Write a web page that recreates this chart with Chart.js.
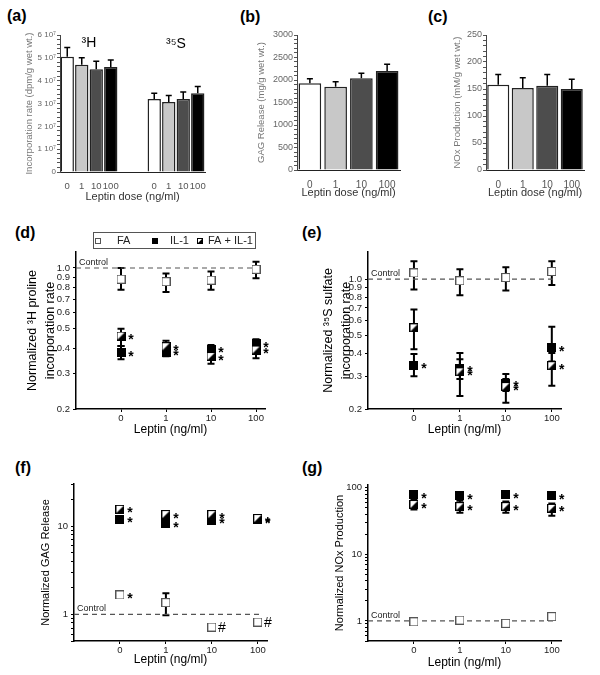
<!DOCTYPE html>
<html>
<head>
<meta charset="utf-8">
<script src="https://cdn.jsdelivr.net/npm/chart.js@4.4.0/dist/chart.umd.min.js"></script>
<style>
  body { margin: 0; background: #fff; width: 600px; height: 675px; position: relative; overflow: hidden; font-family: "Liberation Sans", Arial, sans-serif; }
  canvas { position: absolute; }
  .tag { position: absolute; font-weight: bold; font-size: 16px; color: #000; line-height: 16px; }
</style>
</head>
<body>
<div class="tag" style="left:7px;top:8px">(a)</div>
<div class="tag" style="left:240px;top:9px">(b)</div>
<div class="tag" style="left:428px;top:9px">(c)</div>
<div class="tag" style="left:15px;top:225px">(d)</div>
<div class="tag" style="left:302px;top:225px">(e)</div>
<div class="tag" style="left:15px;top:460px">(f)</div>
<div class="tag" style="left:302px;top:460px">(g)</div>

<canvas id="chartA"></canvas>
<canvas id="chartB"></canvas>
<canvas id="chartC"></canvas>
<canvas id="chartD"></canvas>
<canvas id="chartE"></canvas>
<canvas id="chartF"></canvas>
<canvas id="chartG"></canvas>

<script>
// ---- data ----
const doseLabels = ["0", "1", "10", "100"];
const doseIdx = [0, 1, 2, 3];
const seriesNames = ["FA", "IL-1", "FA + IL-1"];

// (a) incorporation rate, 3H group then 35S group
const aLabels = ["0", "1", "10", "100", "", "", "0", "1", "10", "100"];
const aGroups = ["³H", "³⁵S"];
const aValues = [5.05e7, 4.7e7, 4.5e7, 4.6e7, null, null, 3.2e7, 3.07e7, 3.2e7, 3.45e7];
const aErr = [5.45e7, 5.0e7, 4.85e7, 4.9e7, null, null, 3.45e7, 3.35e7, 3.5e7, 3.75e7];
const aTickLabels = ["0", "1 10⁷", "2 10⁷", "3 10⁷", "4 10⁷", "5 10⁷", "6 10⁷"];

// (b) GAG release
const bValues = [1930, 1850, 2040, 2200];
const bErr = [2030, 1960, 2150, 2350];

// (c) NOx production
const cValues = [158, 152, 156, 150];
const cErr = [177, 171, 177, 168];

// (d) normalized 3H proline incorporation
const dFA = [0.88, 0.855, 0.87, 0.985];
const dFALo = [0.78, 0.76, 0.78, 0.89];
const dFAHi = [1.0, 0.94, 0.96, 1.075];
const dIL1 = [0.38, 0.382, 0.395, 0.42];
const dIL1Lo = [0.353, 0.365, 0.375, 0.40];
const dIL1Hi = [0.41, 0.40, 0.415, 0.443];
const dFAIL = [0.46, 0.407, 0.364, 0.392];
const dFAILLo = [0.41, 0.38, 0.335, 0.357];
const dFAILHi = [0.50, 0.436, 0.39, 0.42];
const dTicks = [0.2, 0.3, 0.4, 0.5, 0.6, 0.7, 0.8, 0.9, 1.0];
const dTickLabels = ["0.2", "0.3", "0.4", "0.5", "0.6", "0.7", "0.8", "0.9", "1.0"];
const dMarks = [["", "", "", ""], ["*", "*", "*", "*"], ["*", "*", "*", "*"]];

// (e) normalized 35S sulfate incorporation
const eFA = [1.08, 0.98, 1.02, 1.10];
const eFALo = [0.88, 0.82, 0.87, 0.93];
const eFAHi = [1.25, 1.13, 1.16, 1.25];
const eIL1 = [0.345, 0.331, 0.275, 0.427];
const eIL1Lo = [0.30, 0.29, 0.25, 0.36];
const eIL1Hi = [0.395, 0.40, 0.309, 0.554];
const eFAIL = [0.547, 0.317, 0.264, 0.342];
const eFAILLo = [0.42, 0.235, 0.216, 0.267];
const eFAILHi = [0.687, 0.37, 0.29, 0.40];
const eTicks = [0.2, 0.3, 0.4, 0.5, 0.6, 0.7, 0.8, 0.9, 1.0];
const eTickLabels = ["0.2", "0.3", "0.4", "0.5", "0.6", "0.7", "0.8", "0.9", "1.0"];
const eMarks = [["", "", "", ""], ["*", "*", "*", "*"], ["", "*", "*", "*"]];

// (f) normalized GAG release
const fFA = [1.66, 1.36, 0.72, 0.82];
const fFALo = [null, 0.98, null, 0.76];
const fFAHi = [null, 1.74, null, 0.86];
const fIL1 = [11.9, 10.6, 11.7, 11.8];
const fFAIL = [15.5, 13.5, 13.5, 12.2];
const fMajor = [1, 10];
const fMajorLabels = ["1", "10"];
const fMinor = [0.5, 0.6, 0.7, 0.8, 0.9, 2, 3, 4, 5, 6, 7, 8, 9, 20, 30];
const fMarks = [["*", "", "#", "#"], ["*", "*", "*", "*"], ["*", "*", "*", "*"]];

// (g) normalized NOx production
const gFA = [0.97, 1.03, 0.92, 1.16];
const gIL1 = [78, 76, 78, 76];
const gFAIL = [56, 52, 52, 49];
const gFAILLo = [47, 42, 42, 38];
const gFAILHi = [66, 64, 62, 58];
const gMajor = [1, 10, 100];
const gMajorLabels = ["1", "10", "100"];
const gMinor = [0.5, 0.6, 0.7, 0.8, 0.9, 2, 3, 4, 5, 6, 7, 8, 9, 20, 30, 40, 50, 60, 70, 80, 90];
const gMarks = [["", "", "", ""], ["*", "*", "*", "*"], ["*", "*", "*", "*"]];

const controlLevel = 1;
const controlEnd = 3.07;

// ---- styles ----
const FONT = '"Liberation Sans", Arial, sans-serif';
const barFills = ["#ffffff", "#c8c8c8", "#4d4d4d", "#000000"];
const drawOrder = [1, 2, 0]; // FA + IL-1 markers sit on top

Chart.defaults.font.family = FONT;
Chart.defaults.animation = false;
Chart.defaults.plugins.legend.display = false;
Chart.defaults.plugins.tooltip.enabled = false;

function marker(kind, size) {
  const c = document.createElement("canvas");
  c.width = size;
  c.height = size;
  const g = c.getContext("2d");
  g.fillStyle = kind === "filled" ? "#000" : "#fff";
  g.fillRect(0, 0, size, size);
  if (kind === "half") {
    g.fillStyle = "#000";
    g.beginPath();
    g.moveTo(size, 0);
    g.lineTo(size, size);
    g.lineTo(0, size);
    g.closePath();
    g.fill();
  }
  g.strokeStyle = kind === "open" ? "#555" : "#000";
  g.lineWidth = 1;
  g.strokeRect(0.5, 0.5, size - 1, size - 1);
  return c;
}
const markerKinds = ["open", "filled", "half"];
const bigMarkers = markerKinds.map((k) => marker(k, 9));
const smallMarkers = markerKinds.map((k) => marker(k, 6));

// canvas placement so the plot area lands where it should
function place(id, box, area) {
  const c = document.getElementById(id);
  c.width = box.w;
  c.height = box.h;
  c.style.left = box.x + "px";
  c.style.top = box.y + "px";
  return {
    ctx: c,
    padding: { top: area.t - box.y, right: box.x + box.w - area.r, left: 0, bottom: 0 },
    yWidth: area.l - box.x,
    xHeight: box.y + box.h - area.b,
  };
}

// ---- plugins ----
const errorBars = {
  id: "errorBars",
  beforeDatasetsDraw(chart) {
    const { ctx } = chart;
    const y = chart.scales.y;
    chart.data.datasets.forEach((ds, i) => {
      if (!ds.errHi) return;
      const meta = chart.getDatasetMeta(i);
      ctx.save();
      ctx.strokeStyle = "#000";
      ctx.lineWidth = ds.errWidth || 1.5;
      meta.data.forEach((el, j) => {
        const hi = ds.errHi[j];
        if (hi == null) return;
        const lo = ds.errLo ? ds.errLo[j] : null;
        const yHi = y.getPixelForValue(hi);
        const yLo = lo == null ? el.y : y.getPixelForValue(lo);
        const cap = ds.errCap || 3;
        ctx.beginPath();
        ctx.moveTo(el.x, yLo);
        ctx.lineTo(el.x, yHi);
        ctx.moveTo(el.x - cap, yHi);
        ctx.lineTo(el.x + cap, yHi);
        if (lo != null) {
          ctx.moveTo(el.x - cap, yLo);
          ctx.lineTo(el.x + cap, yLo);
        }
        ctx.stroke();
      });
      ctx.restore();
    });
  },
};

const sigMarks = {
  id: "sigMarks",
  afterDatasetsDraw(chart) {
    const { ctx } = chart;
    chart.data.datasets.forEach((ds, i) => {
      if (!ds.marks) return;
      const meta = chart.getDatasetMeta(i);
      ctx.save();
      ctx.fillStyle = "#000";
      ctx.textAlign = "center";
      ctx.textBaseline = "alphabetic";
      meta.data.forEach((el, j) => {
        const m = ds.marks[j];
        if (!m) return;
        ctx.font = (m === "*" ? "bold 14px " : "14px ") + FONT;
        ctx.fillText(m, el.x + 10, el.y + (m === "*" ? 8 : 5));
      });
      ctx.restore();
    });
  },
};

const controlLabel = {
  id: "controlLabel",
  afterDatasetsDraw(chart) {
    const ds = chart.data.datasets.find((d) => d.isControl);
    if (!ds) return;
    const { ctx, chartArea } = chart;
    const yy = chart.scales.y.getPixelForValue(ds.data[0].y);
    ctx.save();
    ctx.font = "9px " + FONT;
    ctx.fillStyle = "#222";
    ctx.textBaseline = "bottom";
    ctx.fillText(ds.label, chartArea.left + 3, yy - 1);
    ctx.restore();
  },
};

const groupLabels = {
  id: "groupLabels",
  afterDatasetsDraw(chart) {
    const { ctx, chartArea } = chart;
    const x = chart.scales.x;
    ctx.save();
    ctx.font = "14px " + FONT;
    ctx.fillStyle = "#000";
    ctx.textAlign = "center";
    ctx.textBaseline = "middle";
    ctx.fillText(aGroups[0], x.getPixelForValue(1.5), chartArea.top + 8);
    ctx.fillText(aGroups[1], x.getPixelForValue(7.5), chartArea.top + 9);
    ctx.restore();
  },
};

const boxLegend = {
  id: "boxLegend",
  afterDraw(chart) {
    const { ctx, chartArea } = chart;
    const x0 = chartArea.left + 17, y0 = chartArea.top - 20, w = 162, h = 16;
    const slots = [[5, 24], [62, 77], [107, 115]];
    ctx.save();
    ctx.strokeStyle = "#555";
    ctx.lineWidth = 1;
    ctx.strokeRect(x0 + 0.5, y0 + 0.5, w, h);
    ctx.font = "11px " + FONT;
    ctx.fillStyle = "#222";
    ctx.textBaseline = "middle";
    seriesNames.forEach((name, k) => {
      const img = smallMarkers[k];
      ctx.drawImage(img, Math.round(x0 + slots[k][0] - img.width / 2), Math.round(y0 + h / 2 - img.height / 2) + 1);
      ctx.fillText(name, x0 + slots[k][1], y0 + h / 2 + 1);
    });
    ctx.restore();
  },
};

// ---- bar panels (a)-(c) ----
function barChart(id, box, area, labels, values, errs, yOpts) {
  const L = place(id, box, area);
  const fills = labels.map((l) => (l === "" ? "rgba(0,0,0,0)" : barFills[doseLabels.indexOf(l)]));
  return new Chart(L.ctx, {
    type: "bar",
    data: {
      labels: labels,
      datasets: [{
        data: values,
        backgroundColor: fills,
        borderColor: "#222",
        borderWidth: 1.5,
        barPercentage: yOpts.barPct,
        categoryPercentage: 1,
        errHi: errs,
        errWidth: 1.5,
        errCap: 3,
      }],
    },
    options: {
      responsive: false,
      layout: { padding: L.padding },
      scales: {
        x: {
          ticks: { color: "#555", font: { size: yOpts.xTickSize }, padding: 1, autoSkip: false, maxRotation: 0 },
          grid: { display: false },
          border: { color: "#222", width: 1 },
          title: { display: true, text: "Leptin dose (ng/ml)", color: "#333", font: { size: 11 }, padding: { top: 0, bottom: 4 } },
          afterFit: (s) => { s.height = L.xHeight; },
        },
        y: {
          min: yOpts.min,
          max: yOpts.max,
          ticks: {
            stepSize: yOpts.step,
            maxTicksLimit: 100,
            autoSkip: false,
            color: "#666",
            font: { size: yOpts.tickSize },
            padding: 1,
            callback: yOpts.label,
          },
          grid: { drawOnChartArea: false, tickLength: 3, color: "#555" },
          border: { color: "#444", width: 1 },
          title: { display: true, text: yOpts.title, color: "#777", font: { size: 9.5 }, padding: { top: 0, bottom: 0 } },
          afterFit: (s) => { s.width = L.yWidth; },
        },
      },
    },
    plugins: yOpts.plugins,
  });
}

barChart("chartA", { x: 24, y: 28, w: 191, h: 180 }, { l: 60, t: 35, r: 205, b: 172 }, aLabels, aValues, aErr, {
  min: 0, max: 6e7, step: 2e6, tickSize: 8, xTickSize: 9.5, barPct: 0.92,
  label: (v) => (v % 1e7 === 0 ? aTickLabels[v / 1e7] : ""),
  title: "Incorporation rate (dpm/g wet wt.)",
  plugins: [errorBars, groupLabels],
});

barChart("chartB", { x: 256, y: 28, w: 154, h: 176 }, { l: 297, t: 35, r: 400, b: 170 }, doseLabels, bValues, bErr, {
  min: 0, max: 3000, step: 100, tickSize: 9, xTickSize: 10, barPct: 0.88,
  label: (v) => (v % 500 === 0 ? String(v) : ""),
  title: "GAG Release (mg/g wet wt.)",
  plugins: [errorBars],
});

barChart("chartC", { x: 452, y: 28, w: 142, h: 176 }, { l: 486, t: 35, r: 584, b: 170 }, doseLabels, cValues, cErr, {
  min: 0, max: 250, step: 10, tickSize: 9, xTickSize: 10, barPct: 0.9,
  label: (v) => (v % 50 === 0 ? String(v) : ""),
  title: "NOx Production (mM/g wet wt.)",
  plugins: [errorBars],
});

// ---- log panels (d)-(g) ----
function pts(arr) {
  return doseIdx.map((x, i) => ({ x: x, y: arr[i] }));
}

function logChart(id, box, area, series, yOpts) {
  const L = place(id, box, area);
  const datasets = series.map((s, k) => ({
    label: seriesNames[k],
    data: pts(s.values),
    order: drawOrder[k],
    pointStyle: bigMarkers[k],
    pointRadius: 4.5,
    errLo: s.lo,
    errHi: s.hi,
    errWidth: 2,
    errCap: 3.5,
    marks: s.marks,
  }));
  datasets.push({
    label: "Control",
    isControl: true,
    order: 5,
    data: [{ x: -1, y: controlLevel }, { x: controlEnd, y: controlLevel }],
    showLine: true,
    borderColor: "#555",
    borderWidth: 1.2,
    borderDash: [5, 4],
    pointRadius: 0,
  });
  return new Chart(L.ctx, {
    type: "scatter",
    data: { datasets: datasets },
    options: {
      responsive: false,
      layout: { padding: L.padding },
      scales: {
        x: {
          type: "linear",
          min: -1,
          max: 3.2,
          afterBuildTicks: (s) => { s.ticks = doseIdx.map((v) => ({ value: v })); },
          ticks: { color: "#222", font: { size: 9.5 }, padding: 1, autoSkip: false, maxRotation: 0, callback: (v) => doseLabels[v] ?? "" },
          grid: { drawOnChartArea: false, tickLength: 3, color: "#000" },
          border: { color: "#000", width: 1.5 },
          title: { display: true, text: "Leptin (ng/ml)", color: "#000", font: { size: 12 }, padding: { top: 0, bottom: 4 } },
          afterFit: (s) => { s.height = L.xHeight; },
        },
        y: {
          type: "logarithmic",
          min: yOpts.min,
          max: yOpts.max,
          afterBuildTicks: (s) => { s.ticks = yOpts.ticks.map((v) => ({ value: v })); },
          ticks: { color: "#222", font: { size: 9.5 }, padding: 3, autoSkip: false, callback: yOpts.label },
          grid: { drawOnChartArea: false, tickLength: 3, color: "#000" },
          border: { color: "#000", width: 1.5 },
          title: { display: true, text: yOpts.title, color: "#000", font: { size: yOpts.titleSize, lineHeight: 1.45 }, padding: { top: 0, bottom: 0 } },
          afterFit: (s) => { s.width = L.yWidth; },
        },
      },
    },
    plugins: [errorBars, sigMarks, controlLabel].concat(yOpts.extra || []),
  });
}

logChart("chartD", { x: 23, y: 228, w: 252, h: 213 }, { l: 76, t: 252, r: 265, b: 409 }, [
  { values: dFA, lo: dFALo, hi: dFAHi, marks: dMarks[0] },
  { values: dIL1, lo: dIL1Lo, hi: dIL1Hi, marks: dMarks[1] },
  { values: dFAIL, lo: dFAILLo, hi: dFAILHi, marks: dMarks[2] },
], {
  min: 0.2, max: 1.2, ticks: dTicks, titleSize: 12.5,
  label: (v) => dTickLabels[dTicks.indexOf(v)] ?? "",
  title: ["Normalized ³H proline", "incorporation rate"],
  extra: [boxLegend],
});

logChart("chartE", { x: 319, y: 228, w: 252, h: 213 }, { l: 368, t: 252, r: 561, b: 409 }, [
  { values: eFA, lo: eFALo, hi: eFAHi, marks: eMarks[0] },
  { values: eIL1, lo: eIL1Lo, hi: eIL1Hi, marks: eMarks[1] },
  { values: eFAIL, lo: eFAILLo, hi: eFAILHi, marks: eMarks[2] },
], {
  min: 0.2, max: 1.4, ticks: eTicks, titleSize: 12.5,
  label: (v) => eTickLabels[eTicks.indexOf(v)] ?? "",
  title: ["Normalized ³⁵S sulfate", "incorporation rate"],
});

logChart("chartF", { x: 38, y: 460, w: 239, h: 211 }, { l: 74, t: 484, r: 267, b: 641 }, [
  { values: fFA, lo: fFALo, hi: fFAHi, marks: fMarks[0] },
  { values: fIL1, marks: fMarks[1] },
  { values: fFAIL, marks: fMarks[2] },
], {
  min: 0.5, max: 30, ticks: fMinor.concat(fMajor).sort((a, b) => a - b), titleSize: 11,
  label: (v) => fMajorLabels[fMajor.indexOf(v)] ?? "",
  title: "Normalized GAG Release",
});

logChart("chartG", { x: 332, y: 460, w: 239, h: 214 }, { l: 368, t: 485, r: 561, b: 641 }, [
  { values: gFA, marks: gMarks[0] },
  { values: gIL1, marks: gMarks[1] },
  { values: gFAIL, lo: gFAILLo, hi: gFAILHi, marks: gMarks[2] },
], {
  min: 0.5, max: 110, ticks: gMinor.concat(gMajor).sort((a, b) => a - b), titleSize: 11,
  label: (v) => gMajorLabels[gMajor.indexOf(v)] ?? "",
  title: "Normalized NOx Production",
});
</script>
</body>
</html>
